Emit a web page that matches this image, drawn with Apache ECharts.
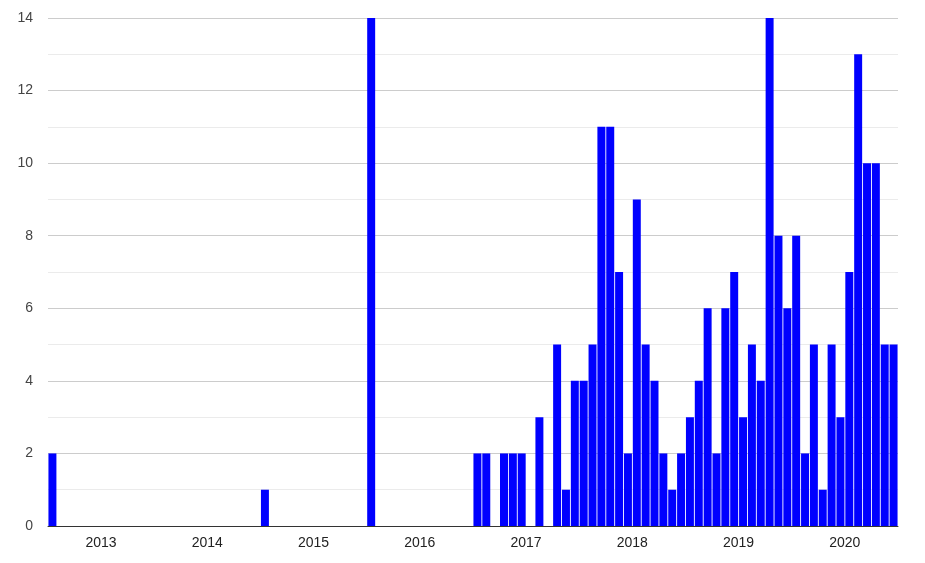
<!DOCTYPE html>
<html>
<head>
<meta charset="utf-8">
<script src="https://cdn.jsdelivr.net/npm/echarts@6/dist/echarts.min.js"></script>
<style>html,body{margin:0;padding:0;background:#fff;}#c{width:925px;height:563px;}</style>
</head>
<body>
<div id="c"></div>
<script>
// Monthly categories: July 2012 .. June 2020
const startYear = 2012, startMonth = 7, monthCount = 96;
const categories = [];
for (let i = 0; i < monthCount; i++) {
  const m = (startMonth - 1 + i) % 12 + 1;
  const y = startYear + Math.floor((startMonth - 1 + i) / 12);
  categories.push(y + '-' + String(m).padStart(2, '0'));
}
// Counts per month
const values2012_2016 = [
  2,0,0,0,0,0,  0,0,0,0,0,0,  0,0,0,0,0,0,  // Jul 2012 - Dec 2013
  0,0,0,0,0,0,  1,0,0,0,0,0,                // Jan 2014 - Dec 2014
  0,0,0,0,0,0,  14,0,0,0,0,0,               // Jan 2015 - Dec 2015
  0,0,0,0,0,0,  2,2,0,2,2,2                 // Jan 2016 - Dec 2016
];
const values2017_2020 = [
  0,3,0,5,1,4,4,5,11,11,7,2,                 // 2017
  9,5,4,2,1,2,3,4,6,2,6,7,                   // 2018
  3,5,4,14,8,6,8,2,5,1,5,3,                  // 2019
  7,13,10,10,5,5                             // Jan - Jun 2020
];
const counts = values2012_2016.concat(values2017_2020);
const yTicks = [0, 2, 4, 6, 8, 10, 12, 14];

const chart = echarts.init(document.getElementById('c'));
chart.setOption({
  animation: false,
  backgroundColor: '#ffffff',
  grid: { left: 48, right: 27, top: 18, bottom: 37, containLabel: false },
  xAxis: {
    type: 'category',
    data: categories,
    boundaryGap: true,
    axisLine: { show: true, lineStyle: { color: '#333333', width: 1 } },
    axisTick: { show: false },
    splitLine: { show: false },
    axisLabel: {
      interval: function (idx, val) { return val.slice(5) === '01'; },
      formatter: function (val) { return val.slice(0, 4); },
      color: '#222222',
      fontFamily: 'Liberation Sans, Arial, sans-serif',
      fontSize: 14,
      margin: 10,
      padding: [0, 9, 0, 0]
    }
  },
  yAxis: {
    type: 'value',
    min: yTicks[0],
    max: yTicks[yTicks.length - 1],
    interval: 2,
    axisLine: { show: false },
    axisTick: { show: false },
    axisLabel: {
      color: '#444444',
      fontFamily: 'Liberation Sans, Arial, sans-serif',
      fontSize: 14,
      margin: 15
    },
    splitLine: { show: true, lineStyle: { color: '#cccccc', width: 1 } },
    minorTick: { show: false, splitNumber: 2 },
    minorSplitLine: { show: true, lineStyle: { color: '#ebebeb', width: 1 } }
  },
  series: [{
    type: 'bar',
    data: counts,
    barCategoryGap: '10%',
    itemStyle: { color: '#0000ff' }
  }]
});
</script>
</body>
</html>
